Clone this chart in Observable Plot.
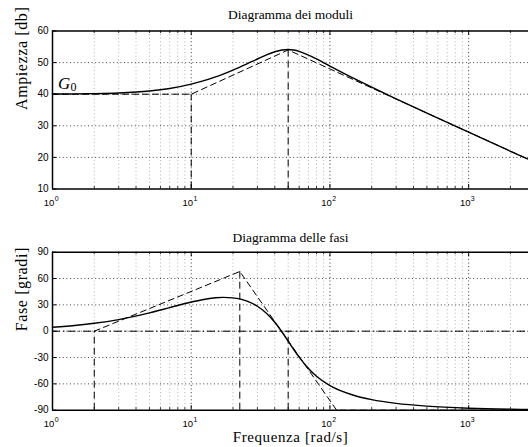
<!DOCTYPE html>
<html>
<head>
<meta charset="utf-8">
<script src="https://cdn.jsdelivr.net/npm/d3@7"></script>
<script src="https://cdn.jsdelivr.net/npm/@observablehq/plot@0.6"></script>
<style>
  html, body { margin: 0; padding: 0; background: #fff; }
  svg { display: block; }
</style>
</head>
<body>
<div id="chart"></div>
<script>
// ---- data ----
const freq  = [1, 1.5, 2, 3, 5, 7, 10, 12, 15, 17, 20, 25, 30, 35, 40, 45, 50, 55, 60, 70, 80, 100, 150, 200, 300, 500, 1000, 2000, 2700];
const magDb = [40.04, 40.1, 40.18, 40.39, 41.01, 41.82, 43.18, 44.12, 45.49, 46.37, 47.62, 49.51, 51.14, 52.47, 53.44, 54.0, 54.15, 53.97, 53.55, 52.39, 51.15, 48.9, 44.91, 42.21, 38.54, 34.02, 27.97, 21.94, 19.4];
const phaseDeg = [4.57, 6.81, 9.02, 13.25, 20.8, 26.86, 33.23, 35.9, 38.06, 38.5, 37.97, 34.51, 28.42, 20.12, 10.19, -0.61, -11.31, -21.11, -29.6, -42.57, -51.41, -62.02, -73.25, -77.93, -82.18, -85.38, -87.7, -88.86, -89.16];

// asymptotic (straight-line) approximations
const magAsymF = [1, 10, 50, 2700];
const magAsym  = [40, 40, 54, 19.4];
const magBreakIdx = [1, 2];              // breakpoints with vertical dashed lines
const phAsymF = [2, 22.4, 111.8, 2700];
const phAsym  = [0, 68, -90, -90];
const phBreakF = [2, 22.4, 50];
const phBreakV = [0, 68, 0];

// axes
const xDomain = [1, 2700];
const magDomain = [10, 60];
const phDomain = [-90, 90];
const magTicks = [10, 20, 30, 40, 50, 60];
const phTicks = [-90, -60, -30, 0, 30, 60, 90];
const decades = [1, 10, 100, 1000];
const decadeExp = ["0", "1", "2", "3"];

const titleTop = "Diagramma dei moduli";
const titleBottom = "Diagramma delle fasi";
const yLabelTop = "Ampiezza [db]";
const yLabelBottom = "Fase [gradi]";
const xLabel = "Frequenza [rad/s]";

// ---- derived tables ----
const magRows = freq.map((f, i) => ({f, v: magDb[i]}));
const phRows = freq.map((f, i) => ({f, v: phaseDeg[i]}));
const magAsymRows = magAsymF.map((f, i) => ({f, v: magAsym[i]}));
const phAsymRows = phAsymF.map((f, i) => ({f, v: phAsym[i]}));
const magBreakRows = magBreakIdx.map(i => ({f: magAsymF[i], v: magAsym[i]}));
const phBreakRows = phBreakF.map((f, i) => ({f, v: phBreakV[i]}));
const minorGrid = [];
for (let e = 0; e < 4; e++) for (let m = 2; m <= 9; m++) { const v = m * 10 ** e; if (v < xDomain[1]) minorGrid.push(v); }
const decRows = decades.map((d, i) => ({d, e: decadeExp[i]}));

const SERIF = "'Liberation Serif', serif";
const SANS = "'Liberation Sans', Arial, Helvetica, sans-serif";
const W = 528, ML = 52;
const plotW = W - ML;

function panel({height, mt, mb, yDomain, yTicks, rows, asymRows, breakRows, title, titleDy, ylabel, xlab, extra}) {
  const ph = height - mt - mb;
  return Plot.plot({
    width: W, height, marginLeft: ML, marginRight: 0, marginTop: mt, marginBottom: mb,
    style: {background: "#fff", overflow: "visible"},
    x: {type: "log", domain: xDomain, axis: null},
    y: {domain: yDomain, axis: null},
    marks: [
      // grid
      Plot.ruleX(minorGrid, {stroke: "#b0b0b0", strokeWidth: 1, strokeDasharray: "1,2.6"}),
      Plot.ruleX(decades.slice(1), {stroke: "#000", strokeWidth: 1, strokeDasharray: "1,2.6", strokeOpacity: 0.8}),
      Plot.ruleY(yTicks.slice(1, -1), {stroke: "#444", strokeWidth: 1, strokeDasharray: "1,2.6"}),
      ...(extra || []),
      // breakpoints
      Plot.ruleX(breakRows, {x: "f", y1: yDomain[0], y2: "v", stroke: "#000", strokeWidth: 1, strokeDasharray: "7,4"}),
      // asymptotes
      Plot.line(asymRows, {x: "f", y: "v", stroke: "#000", strokeWidth: 1, strokeDasharray: "6,4"}),
      // exact curve
      Plot.line(rows, {x: "f", y: "v", stroke: "#000", strokeWidth: 1.4, curve: "monotone-x"}),
      // inward ticks
      Plot.tickX(decades, {insetTop: ph - 4.5, stroke: "#000", strokeWidth: 1}),
      Plot.tickX(decades, {insetBottom: ph - 4.5, stroke: "#000", strokeWidth: 1}),
      Plot.tickX(minorGrid, {insetTop: ph - 2.5, stroke: "#000", strokeWidth: 0.8}),
      Plot.tickX(minorGrid, {insetBottom: ph - 2.5, stroke: "#000", strokeWidth: 0.8}),
      Plot.tickY(yTicks, {insetRight: plotW - 4.5, stroke: "#000", strokeWidth: 1}),
      // frame (left, top, bottom)
      Plot.ruleY([yDomain[0], yDomain[1]], {stroke: "#000", strokeWidth: 1.5}),
      Plot.ruleX([xDomain[0]], {stroke: "#000", strokeWidth: 1.5}),
      // y tick labels
      Plot.text(yTicks, {x: xDomain[0], y: d => d, text: d => String(d), textAnchor: "end", dx: -4, fontSize: 10, fontFamily: SANS, fill: "#000"}),
      // x tick labels 10^n
      Plot.text(decRows, {x: "d", y: yDomain[0], text: () => "10", textAnchor: "middle", lineAnchor: "bottom", dx: -3.5, dy: 16.5, fontSize: 9.5, fontFamily: SANS, fill: "#000"}),
      Plot.text(decRows, {x: "d", y: yDomain[0], text: "e", textAnchor: "start", lineAnchor: "bottom", dx: 2.2, dy: 11.5, fontSize: 7, fontFamily: SANS, fill: "#000"}),
      // title
      Plot.text([title], {frameAnchor: "top", lineAnchor: "bottom", dy: titleDy, fontSize: 13.5, fontFamily: SERIF, fill: "#000"}),
      // y label
      Plot.text([ylabel], {frameAnchor: "left", rotate: -90, dx: -31, fontSize: 16, fontFamily: SERIF, fill: "#000", className: "lbl"}),
      ...(xlab ? [Plot.text([xlab], {frameAnchor: "bottom", lineAnchor: "bottom", dy: 32.1, fontSize: 15, fontFamily: SERIF, fill: "#000"})] : [])
    ]
  });
}

const magPanel = panel({
  height: 220, mt: 30.5, mb: 31.5, yDomain: magDomain, yTicks: magTicks,
  rows: magRows, asymRows: magAsymRows, breakRows: magBreakRows,
  title: titleTop, titleDy: -12.5, ylabel: yLabelTop,
  extra: [
    Plot.text([magAsymRows[0]], {x: "f", y: "v", text: () => "G", textAnchor: "start", lineAnchor: "bottom", dx: 5.5, dy: -5, fontSize: 17, fontStyle: "italic", fontFamily: SERIF, fill: "#000"}),
    Plot.text([magAsymRows[0]], {x: "f", y: "v", text: () => "0", textAnchor: "start", lineAnchor: "bottom", dx: 18, dy: -3.5, fontSize: 12, fontFamily: SERIF, fill: "#000"})
  ]
});

const phasePanel = panel({
  height: 227, mt: 31.7, mb: 37.3, yDomain: phDomain, yTicks: phTicks,
  rows: phRows, asymRows: phAsymRows, breakRows: phBreakRows,
  title: titleBottom, titleDy: -10, ylabel: yLabelBottom, xlab: xLabel,
  extra: [
    Plot.ruleY([0], {stroke: "#000", strokeWidth: 1, strokeDasharray: "8,3,1.5,3"})
  ]
});

const el = document.getElementById("chart");
el.appendChild(magPanel);
el.appendChild(phasePanel);

// force serif on all serif texts; widen axis-label lettering a little (Computer Modern is wider than Times)
d3.selectAll("svg g").filter(function () { return this.getAttribute("font-family") === SERIF; })
  .style("font-family", SERIF)
  .filter(function () { return +this.getAttribute("font-size") >= 15; })
  .style("letter-spacing", "0.6px");
</script>
</body>
</html>
